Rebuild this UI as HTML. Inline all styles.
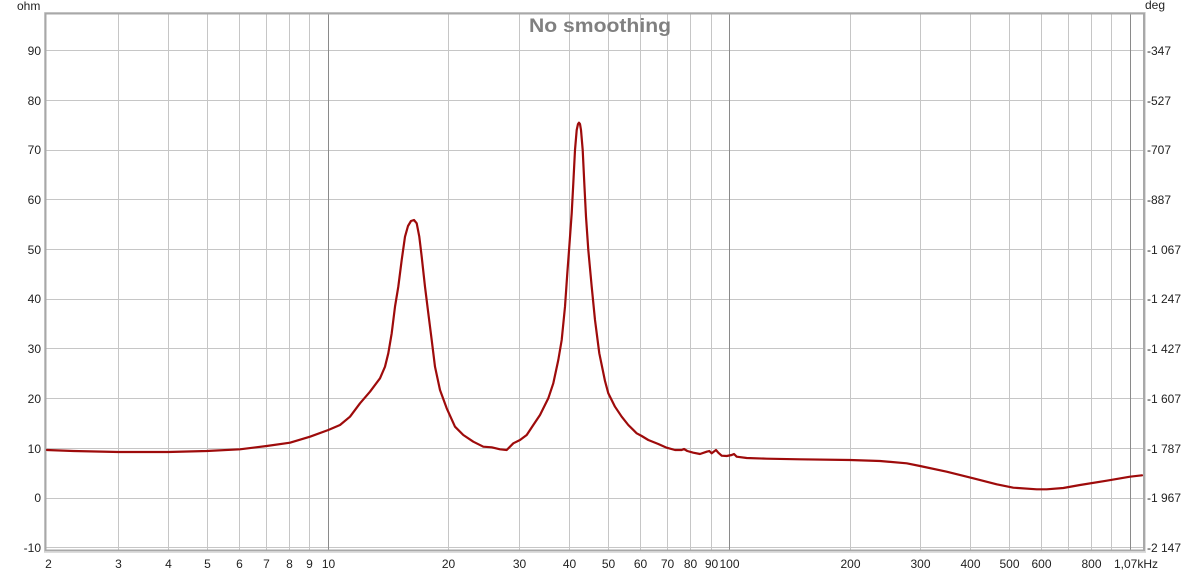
<!DOCTYPE html>
<html><head><meta charset="utf-8"><style>
html,body{margin:0;padding:0;background:#fff;}
svg{display:block;}
text{font-family:"Liberation Sans",Arial,sans-serif;font-size:12px;fill:#222;}
</style></head><body>
<svg width="1200" height="572" viewBox="0 0 1200 572" xmlns="http://www.w3.org/2000/svg">
<rect x="0" y="0" width="1200" height="572" fill="#fff"/>
<g stroke="#c6c6c6" stroke-width="1" shape-rendering="crispEdges">
<line x1="46" y1="50.5" x2="1144" y2="50.5"/>
<line x1="46" y1="100.5" x2="1144" y2="100.5"/>
<line x1="46" y1="150.5" x2="1144" y2="150.5"/>
<line x1="46" y1="199.5" x2="1144" y2="199.5"/>
<line x1="46" y1="249.5" x2="1144" y2="249.5"/>
<line x1="46" y1="299.5" x2="1144" y2="299.5"/>
<line x1="46" y1="348.5" x2="1144" y2="348.5"/>
<line x1="46" y1="398.5" x2="1144" y2="398.5"/>
<line x1="46" y1="448.5" x2="1144" y2="448.5"/>
<line x1="46" y1="498.5" x2="1144" y2="498.5"/>
<line x1="46" y1="547.5" x2="1144" y2="547.5"/>
</g>
<g stroke="#c6c6c6" stroke-width="1" shape-rendering="crispEdges">
<line x1="118.5" y1="14" x2="118.5" y2="550"/>
<line x1="168.5" y1="14" x2="168.5" y2="550"/>
<line x1="207.5" y1="14" x2="207.5" y2="550"/>
<line x1="239.5" y1="14" x2="239.5" y2="550"/>
<line x1="266.5" y1="14" x2="266.5" y2="550"/>
<line x1="289.5" y1="14" x2="289.5" y2="550"/>
<line x1="309.5" y1="14" x2="309.5" y2="550"/>
<line x1="448.5" y1="14" x2="448.5" y2="550"/>
<line x1="519.5" y1="14" x2="519.5" y2="550"/>
<line x1="569.5" y1="14" x2="569.5" y2="550"/>
<line x1="608.5" y1="14" x2="608.5" y2="550"/>
<line x1="640.5" y1="14" x2="640.5" y2="550"/>
<line x1="667.5" y1="14" x2="667.5" y2="550"/>
<line x1="690.5" y1="14" x2="690.5" y2="550"/>
<line x1="711.5" y1="14" x2="711.5" y2="550"/>
<line x1="850.5" y1="14" x2="850.5" y2="550"/>
<line x1="920.5" y1="14" x2="920.5" y2="550"/>
<line x1="970.5" y1="14" x2="970.5" y2="550"/>
<line x1="1009.5" y1="14" x2="1009.5" y2="550"/>
<line x1="1041.5" y1="14" x2="1041.5" y2="550"/>
<line x1="1068.5" y1="14" x2="1068.5" y2="550"/>
<line x1="1091.5" y1="14" x2="1091.5" y2="550"/>
<line x1="1111.5" y1="14" x2="1111.5" y2="550"/>
</g>
<g stroke="#8a8a8a" stroke-width="1" shape-rendering="crispEdges">
<line x1="328.5" y1="14" x2="328.5" y2="550"/>
<line x1="729.5" y1="14" x2="729.5" y2="550"/>
<line x1="1130.5" y1="14" x2="1130.5" y2="550"/>
</g>
<rect x="44.5" y="12.5" width="1101" height="540" fill="none" stroke="#dcdcdc" stroke-width="1"/>
<rect x="45.5" y="13.5" width="1098.5" height="537" fill="none" stroke="#a8a8a8" stroke-width="2"/>

<text x="529" y="32" textLength="142" lengthAdjust="spacingAndGlyphs" style="font-size:19px;font-weight:bold;fill:#808080">No smoothing</text>

<polyline fill="none" stroke="#9e0b0b" stroke-width="2.2" stroke-linejoin="round" stroke-linecap="round" points="
47,450 73.3,451 118.3,452 168.3,452 206.7,451 240,449.3 266.7,446 290,442.7 310,436.7 328.3,430 340,425 350,416.7 360,403.3 370,391.7 380,378.3 385,366.7 388.3,353.3 391.7,333.3 395,306.7 398.3,286.7 401.7,260 405,236.7 408,226 411,221 414,220 416.7,223.3 419.3,236.7 421.7,256.7 425,286.7 428.3,313.3 431.7,340 435,366.7 440,390 446.7,408.3 455,426.7 463.3,435 473.3,441.7 483.3,446.7 491.7,447.3 500,449.3 506.7,450 513.3,443.3 520,440 526.7,435 533.3,425 540,415 548.3,398.3 553.3,383.3 558.3,360 561.7,340 565,306.7 567.3,273.3 569.3,246.7 571.7,213.3 573.3,183.3 575,150 576.7,130 578,124 579,122.7 580,124 581,130 582.7,150 584.3,183.3 586,216.7 588.3,250 591.7,286.7 595,320 599.3,353.3 605,381 608.3,393.3 615,406.7 621.7,416.7 628.3,425 636.7,433.3 641.7,436 648.3,440 658.3,444 666.7,447.7 675,450 681.7,450 684,449 687.3,451 693.3,452.7 700,454 706.7,451.7 709.3,451 711.7,453.3 716,450 718.3,452.7 721.7,455.7 726.7,456 731.7,455 734,454 736.7,456.7 746.7,458 766.7,458.7 800,459.3 850,460 880,461 906.7,463.3 920,466 946.7,471.7 973.3,478.3 996.7,484.3 1013.3,487.7 1036.7,489.3 1046.7,489.3 1063.3,488 1080,485 1106.7,480.7 1130,476.7 1142,475.3"/>

<text x="17" y="10">ohm</text>
<text x="1145" y="9">deg</text>

<g text-anchor="end">
<text x="41" y="55">90</text>
<text x="41" y="105">80</text>
<text x="41" y="154">70</text>
<text x="41" y="204">60</text>
<text x="41" y="254">50</text>
<text x="41" y="303">40</text>
<text x="41" y="353">30</text>
<text x="41" y="403">20</text>
<text x="41" y="453">10</text>
<text x="41" y="502">0</text>
<text x="41" y="552">-10</text>
</g>
<g>
<text x="1147" y="55">-347</text>
<text x="1147" y="105">-527</text>
<text x="1147" y="154">-707</text>
<text x="1147" y="204">-887</text>
<text x="1147" y="254">-1 067</text>
<text x="1147" y="303">-1 247</text>
<text x="1147" y="353">-1 427</text>
<text x="1147" y="403">-1 607</text>
<text x="1147" y="453">-1 787</text>
<text x="1147" y="502">-1 967</text>
<text x="1147" y="552">-2 147</text>
</g>
<g text-anchor="middle">
<text x="48.5" y="568">2</text>
<text x="118.5" y="568">3</text>
<text x="168.5" y="568">4</text>
<text x="207.5" y="568">5</text>
<text x="239.5" y="568">6</text>
<text x="266.5" y="568">7</text>
<text x="289.5" y="568">8</text>
<text x="309.5" y="568">9</text>
<text x="328.5" y="568">10</text>
<text x="448.5" y="568">20</text>
<text x="519.5" y="568">30</text>
<text x="569.5" y="568">40</text>
<text x="608.5" y="568">50</text>
<text x="640.5" y="568">60</text>
<text x="667.5" y="568">70</text>
<text x="690.5" y="568">80</text>
<text x="711.5" y="568">90</text>
<text x="729.5" y="568">100</text>
<text x="850.5" y="568">200</text>
<text x="920.5" y="568">300</text>
<text x="970.5" y="568">400</text>
<text x="1009.5" y="568">500</text>
<text x="1041.5" y="568">600</text>
<text x="1091.5" y="568">800</text>
</g>
<text x="1114" y="568">1,07kHz</text>
</svg>
</body></html>
